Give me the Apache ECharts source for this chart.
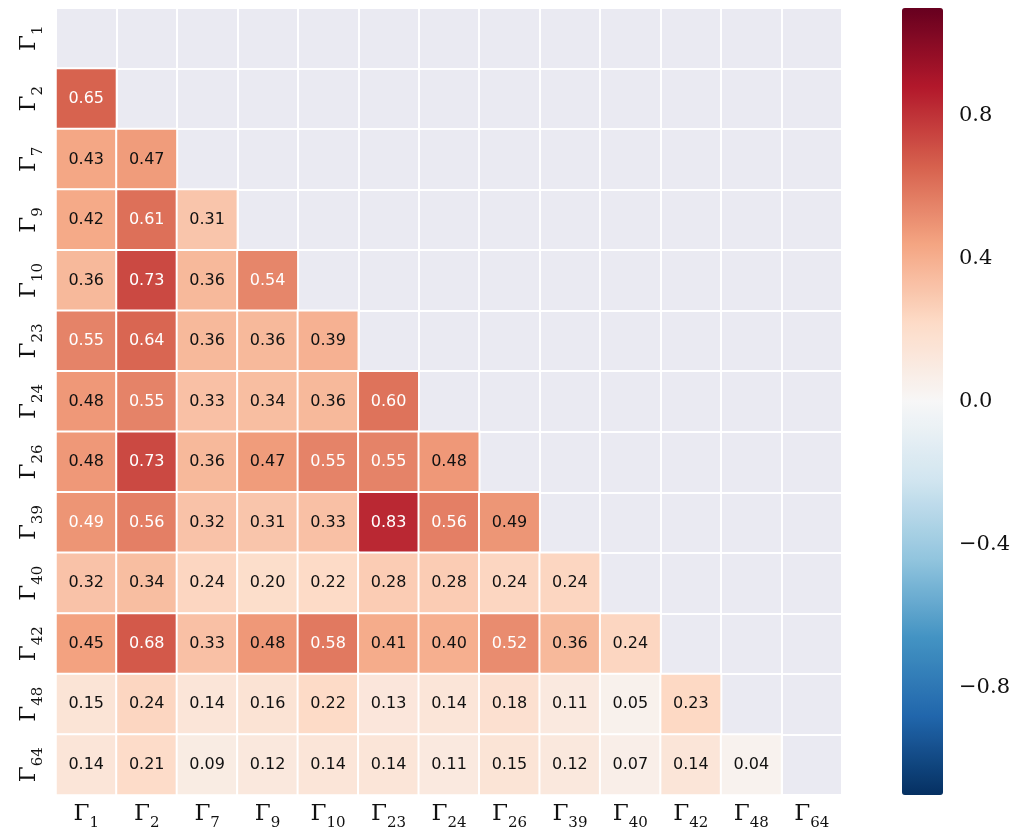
<!DOCTYPE html>
<html>
<head>
<meta charset="utf-8">
<script src="https://cdn.jsdelivr.net/npm/echarts@6/dist/echarts.min.js"></script>
<style>
  html, body { margin: 0; padding: 0; background: #ffffff; }
  #chart { width: 1021px; height: 834px; }
</style>
</head>
<body>
<div id="chart"></div>
<script>
// Channel labels (rows and columns share the same order)
const channels = ['1', '2', '7', '9', '10', '23', '24', '26', '39', '40', '42', '48', '64'];

// Lower-triangle correlation rows; row i holds values for columns 0..i-1
const corrRows = [
  [],
  [0.65],
  [0.43, 0.47],
  [0.42, 0.61, 0.31],
  [0.36, 0.73, 0.36, 0.54],
  [0.55, 0.64, 0.36, 0.36, 0.39],
  [0.48, 0.55, 0.33, 0.34, 0.36, 0.60],
  [0.48, 0.73, 0.36, 0.47, 0.55, 0.55, 0.48],
  [0.492, 0.56, 0.32, 0.31, 0.33, 0.83, 0.56, 0.488],
  [0.32, 0.34, 0.24, 0.20, 0.22, 0.28, 0.28, 0.24, 0.24],
  [0.45, 0.68, 0.33, 0.48, 0.58, 0.41, 0.40, 0.52, 0.36, 0.24],
  [0.15, 0.24, 0.14, 0.16, 0.22, 0.13, 0.14, 0.18, 0.11, 0.05, 0.23],
  [0.14, 0.21, 0.09, 0.12, 0.14, 0.14, 0.11, 0.15, 0.12, 0.07, 0.14, 0.04]
];

// Colour scale limits and colour-bar ticks
const scaleMin = -1.1;
const scaleMax = 1.1;
const colorbarTicks = [-0.8, -0.4, 0.0, 0.4, 0.8];

// Diverging palette (blue -> white -> red)
const rdbu = ['#053061', '#2166ac', '#4393c3', '#92c5de', '#d1e5f0', '#f7f7f7',
              '#fddbc7', '#f4a582', '#d6604d', '#b2182b', '#67001f'];

const LIGHT_TEXT_FROM = 0.49;

const cells = [];
corrRows.forEach((row, i) => {
  row.forEach((v, j) => {
    cells.push({
      value: [j, i, v],
      label: { color: v >= LIGHT_TEXT_FROM ? '#ffffff' : '#111111' }
    });
  });
});

const serif = "'DejaVu Serif', 'Liberation Serif', serif";
const gammaRich = {
  g: { fontFamily: serif, fontSize: 23, color: '#111', verticalAlign: 'bottom', padding: [0, 0, 5, 0] },
  s: { fontFamily: serif, fontSize: 15, color: '#111', verticalAlign: 'bottom', padding: [0, 0, 0, 0] }
};
const gammaLabel = (v) => '{g|Γ}{s|' + v + '}';

const chart = echarts.init(document.getElementById('chart'), null, { renderer: 'canvas' });

chart.setOption({
  animation: false,
  backgroundColor: '#ffffff',
  grid: [
    { left: 56, top: 8, width: 786, height: 787, show: true, backgroundColor: '#eaeaf2', borderWidth: 0 },
    { left: 902, top: 8, width: 41, height: 787, show: false }
  ],
  xAxis: [
    {
      type: 'category', gridIndex: 0, data: channels,
      axisLine: { show: false }, axisTick: { show: false },
      splitLine: { show: true, interval: 0, lineStyle: { color: '#ffffff', width: 2 } },
      axisLabel: { interval: 0, margin: 8, formatter: gammaLabel, rich: gammaRich }
    },
    {
      type: 'value', gridIndex: 1, show: false, min: 0, max: 1
    }
  ],
  yAxis: [
    {
      type: 'category', gridIndex: 0, data: channels, inverse: true,
      axisLine: { show: false }, axisTick: { show: false },
      splitLine: { show: true, interval: 0, lineStyle: { color: '#ffffff', width: 2 } },
      axisLabel: { interval: 0, rotate: 90, margin: 10, formatter: gammaLabel, rich: gammaRich }
    },
    {
      type: 'value', gridIndex: 1, position: 'right', min: scaleMin, max: scaleMax,
      axisLine: { show: false }, axisTick: { show: false }, splitLine: { show: false },
      axisLabel: {
        margin: 16, fontFamily: serif, fontSize: 21, color: '#111',
        customValues: colorbarTicks,
        formatter: (v) => (v < 0 ? '\u2212' : '') + Math.abs(v).toFixed(1)
      }
    }
  ],
  visualMap: {
    type: 'continuous', seriesIndex: 0, min: scaleMin, max: scaleMax,
    calculable: false, realtime: false, text: null, showLabel: false,
    left: 902, top: 8, itemWidth: 41, itemHeight: 787, padding: 0,
    inRange: { color: rdbu },
    textStyle: { color: 'transparent' }
  },
  series: [
    {
      type: 'heatmap', xAxisIndex: 0, yAxisIndex: 0, data: cells,
      itemStyle: { borderColor: '#ffffff', borderWidth: 2 },
      label: {
        show: true, fontFamily: "'DejaVu Sans', sans-serif", fontSize: 16,
        formatter: (p) => p.value[2].toFixed(2)
      },
      emphasis: { disabled: true }
    }
  ]
});
</script>
</body>
</html>
